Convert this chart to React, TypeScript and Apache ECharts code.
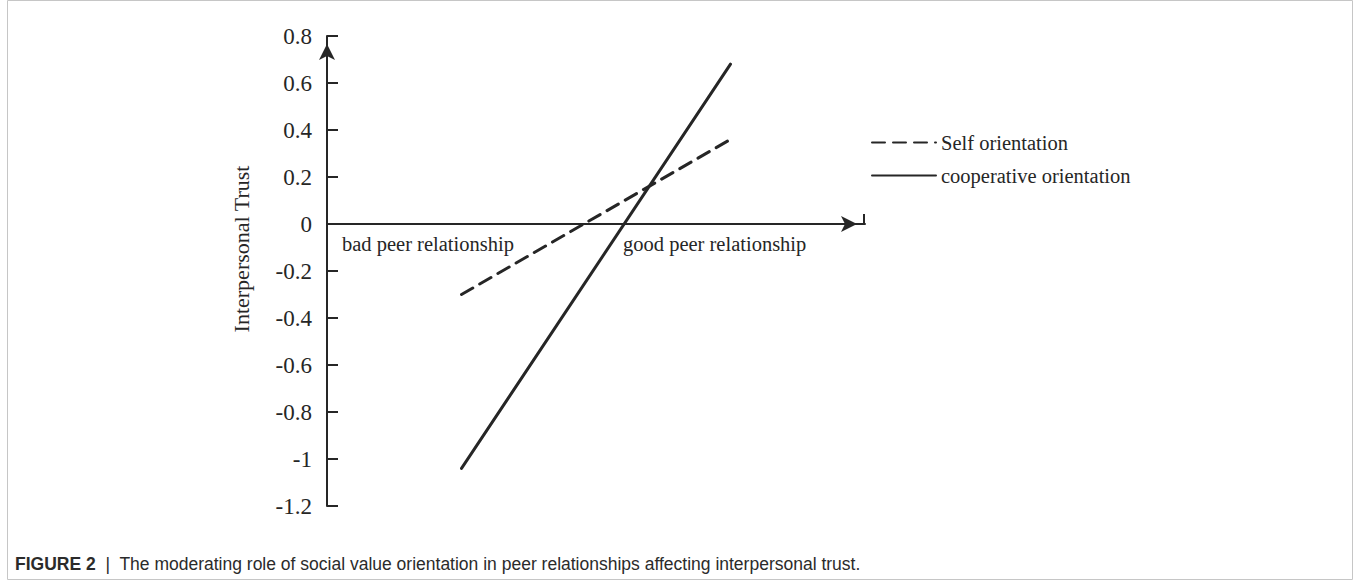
import React, { useEffect, useRef } from "react";
import * as echarts from "echarts";

// ---- data ----
const peerLevels = [25, 75]; // positions of low / high peer relationship on the (unlabelled) x scale
const selfOrientation = [-0.3, 0.36];
const cooperativeOrientation = [-1.04, 0.68];
const seriesNames = ["Self orientation", "cooperative orientation"];
const yMin = -1.2;
const yMax = 0.8;
const yInterval = 0.2;
const axisTitle = "Interpersonal Trust";
const xAnnotations = ["bad peer relationship", "good peer relationship"];
const captionLead = "FIGURE 2";
const captionText =
  "The moderating role of social value orientation in peer relationships affecting interpersonal trust.";

export default function App() {
  const ref = useRef<HTMLDivElement>(null);

  useEffect(() => {
    document.body.style.margin = "0";
    const el = ref.current;
    if (!el) return;
    const chart = echarts.init(el, null, { renderer: "svg" });
    const ink = "#262626";
    const serif = "'Liberation Serif', 'Times New Roman', serif";
    const sans = "'Liberation Sans', Arial, Helvetica, sans-serif";
    const axisLineStyle = { color: ink, width: 2 };

    const makeData = (vals: number[]) => peerLevels.map((x, i) => [x, vals[i]]);

    chart.setOption({
      animation: false,
      backgroundColor: "#ffffff",
      grid: { left: 327, top: 36, width: 538, height: 470 },
      xAxis: {
        type: "value",
        min: 0,
        max: 100,
        axisLine: {
          show: true,
          onZero: true,
          symbol: ["none", "arrow"],
          symbolSize: [12, 16],
          symbolOffset: [0, -8],
          lineStyle: axisLineStyle,
        },
        axisTick: { show: false },
        axisLabel: { show: false },
        splitLine: { show: false },
      },
      yAxis: {
        type: "value",
        min: yMin,
        max: yMax,
        interval: yInterval,
        axisLine: {
          show: true,
          symbol: ["none", "arrow"],
          symbolSize: [12, 16],
          symbolOffset: [0, -8],
          lineStyle: axisLineStyle,
        },
        axisTick: { show: true, inside: true, length: 11, lineStyle: axisLineStyle },
        axisLabel: { margin: 15, color: ink, fontFamily: serif, fontSize: 23 },
        splitLine: { show: false },
      },
      legend: {
        orient: "vertical",
        left: 866,
        top: 127,
        itemWidth: 64,
        itemHeight: 14,
        itemGap: 12,
        itemStyle: { opacity: 0 },
        textStyle: { fontFamily: serif, fontSize: 20.5, color: ink },
        data: seriesNames,
      },
      series: [
        {
          name: seriesNames[0],
          type: "line",
          data: makeData(selfOrientation),
          symbol: "none",
          lineStyle: { color: ink, width: 3, type: [13, 8], cap: "round" },
          itemStyle: { color: ink },
          z: 3,
        },
        {
          name: seriesNames[1],
          type: "line",
          data: makeData(cooperativeOrientation),
          symbol: "none",
          lineStyle: { color: ink, width: 3, type: "solid", cap: "round" },
          itemStyle: { color: ink },
          z: 3,
        },
      ],
      graphic: [
        {
          type: "rect",
          shape: { x: 7.5, y: 0.5, width: 1345, height: 579 },
          style: { fill: "none", stroke: "#c6c6c6", lineWidth: 1 },
          silent: true,
        },
        {
          type: "line",
          shape: { x1: 864, y1: 214, x2: 864, y2: 224 },
          style: { stroke: ink, lineWidth: 2 },
        },
        {
          type: "text",
          x: 241,
          y: 249,
          rotation: Math.PI / 2,
          style: {
            text: axisTitle,
            fill: ink,
            font: `22px ${serif}`,
            align: "center",
            verticalAlign: "middle",
          },
        },
        {
          type: "text",
          x: 342,
          y: 244,
          style: {
            text: xAnnotations[0],
            fill: ink,
            font: `20.5px ${serif}`,
            align: "left",
            verticalAlign: "middle",
          },
        },
        {
          type: "text",
          x: 623,
          y: 244,
          style: {
            text: xAnnotations[1],
            fill: ink,
            font: `20.5px ${serif}`,
            align: "left",
            verticalAlign: "middle",
          },
        },
        {
          type: "text",
          x: 15,
          y: 564,
          style: {
            text: `{b|${captionLead}}  |  ${captionText}`,
            fill: "#2b2b2b",
            font: `17.5px ${sans}`,
            align: "left",
            verticalAlign: "middle",
            rich: {
              b: { fontWeight: "bold", fontSize: 17.5, fontFamily: sans, fill: "#2b2b2b" },
            },
          },
        },
      ],
    });

    return () => {
      chart.dispose();
    };
  }, []);

  return <div ref={ref} style={{ width: 1355, height: 581 }} />;
}
